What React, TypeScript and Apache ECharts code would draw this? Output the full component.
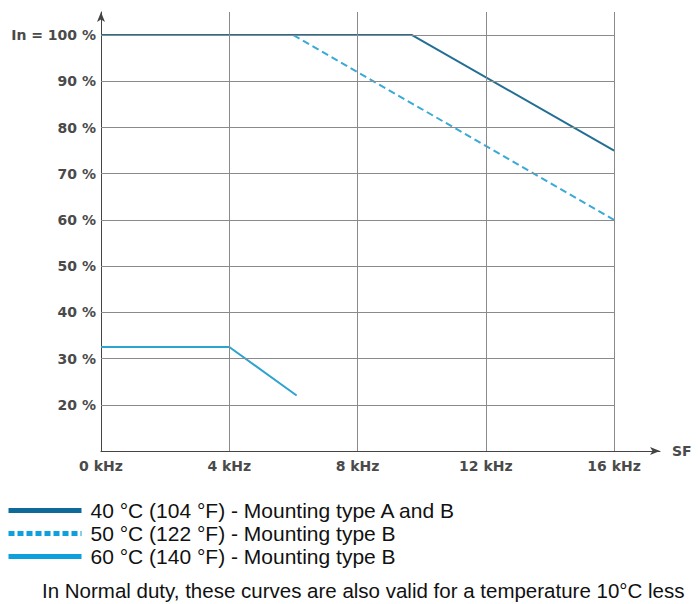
import React, { useEffect, useRef } from "react";
import * as echarts from "echarts";

const xTicks = [0, 4, 8, 12, 16];
const yTicks = [20, 30, 40, 50, 60, 70, 80, 90, 100];
const seriesNames = [
  "40 °C (104 °F) - Mounting type A and B",
  "50 °C (122 °F) - Mounting type B",
  "60 °C (140 °F) - Mounting type B",
];
const curve40: [number, number][] = [[0, 100], [9.7, 100], [16, 75]];
const curve50: [number, number][] = [[6, 100], [16, 60]];
const curve60: [number, number][] = [[0, 32.5], [4, 32.5], [6.1, 22]];
const note = "In Normal duty, these curves are also valid for a temperature 10°C less";

const X_MIN = 0;
const X_MAX = 17.43;
const Y_MIN = 10;
const Y_MAX = 105;
const GRID_X_END = 16;

export default function App() {
  const ref = useRef<HTMLDivElement>(null);
  useEffect(() => {
    if (!ref.current) return;
    const chart = echarts.init(ref.current, undefined, { renderer: "svg" });
    const gridLine = { color: "#8a8a8a", width: 1, type: "solid" as const };
    const gridMarks: any[] = [];
    yTicks.forEach((v) => gridMarks.push([{ coord: [X_MIN, v] }, { coord: [GRID_X_END, v] }]));
    xTicks.filter((v) => v > 0).forEach((v) => gridMarks.push([{ coord: [v, Y_MIN] }, { coord: [v, Y_MAX] }]));
    const labelFont = {
      fontFamily: "DejaVu Sans, sans-serif",
      fontWeight: "bold" as const,
      fontSize: 14,
      color: "#4a4a4a",
    };
    const legendFont = "Liberation Sans, Arial, sans-serif";
    const hidden = { color: "transparent", borderColor: "transparent", opacity: 0 };
    const legendColors = ["#0f6a9a", "#0ea0dc", "#0ea0dc"];
    const legendTypes: any[] = ["solid", [6, 3], "solid"];
    const legendTops = [500, 523, 546];
    const legends = seriesNames.map((name, i) => ({
      orient: "vertical",
      left: 6,
      top: legendTops[i],
      padding: 0,
      itemWidth: 73,
      itemHeight: 10,
      selectedMode: false,
      textStyle: {
        fontFamily: legendFont,
        fontSize: 21,
        color: "#111",
        padding: [0, 0, 0, 4],
      },
      data: [{ name, itemStyle: hidden, lineStyle: { width: 5, color: legendColors[i], type: legendTypes[i] } }],
    }));
    chart.setOption({
      animation: false,
      grid: { left: 101, right: 38, top: 12, bottom: 153, containLabel: false },
      xAxis: {
        type: "value",
        min: X_MIN,
        max: X_MAX,
        interval: 4,
        name: "SF",
        nameLocation: "end",
        nameGap: 12,
        nameTextStyle: { ...labelFont, fontSize: 14, verticalAlign: "middle" },
        axisLine: { show: true, lineStyle: { color: "#444", width: 1 }, symbol: ["none", "arrow"], symbolSize: [6, 10] },
        axisTick: { show: false },
        splitLine: { show: false },
        axisLabel: {
          ...labelFont,
          margin: 8,
          formatter: (v: number) => (xTicks.includes(v) ? `${v} kHz` : ""),
        },
      },
      yAxis: {
        type: "value",
        min: Y_MIN,
        max: Y_MAX,
        interval: 10,
        axisLine: { show: true, lineStyle: { color: "#444", width: 1 }, symbol: ["none", "arrow"], symbolSize: [6, 10] },
        axisTick: { show: false },
        splitLine: { show: false },
        axisLabel: {
          ...labelFont,
          margin: 5,
          formatter: (v: number) => (v === 100 ? "In = 100 %" : yTicks.includes(v) ? `${v} %` : ""),
        },
      },
      legend: legends,
      graphic: [
        {
          type: "text",
          left: 42,
          top: 580,
          style: {
            text: note,
            fontFamily: legendFont,
            fontSize: 20.5,
            fill: "#111",
          },
        },
      ],
      series: [
        {
          name: "grid",
          type: "line",
          data: [],
          silent: true,
          markLine: {
            silent: true,
            symbol: ["none", "none"],
            label: { show: false },
            lineStyle: gridLine,
            emphasis: { disabled: true },
            data: gridMarks,
          },
          z: 1,
        },
        {
          name: seriesNames[0],
          type: "line",
          data: curve40,
          showSymbol: false,
          symbol: "none",
          lineStyle: { color: "#236f94", width: 2 },
          itemStyle: { color: "#236f94" },
          z: 4,
        },
        {
          name: seriesNames[1],
          type: "line",
          data: curve50,
          showSymbol: false,
          symbol: "none",
          lineStyle: { color: "#3aa9d6", width: 2, type: [7, 4] },
          itemStyle: { color: "#3aa9d6" },
          z: 3,
        },
        {
          name: seriesNames[2],
          type: "line",
          data: curve60,
          showSymbol: false,
          symbol: "none",
          lineStyle: { color: "#2ea3cf", width: 2 },
          itemStyle: { color: "#2ea3cf" },
          z: 3,
        },
      ],
    });
    return () => chart.dispose();
  }, []);
  return (
    <div
      ref={ref}
      style={{ position: "fixed", left: 0, top: 0, width: 698, height: 604, background: "#fff" }}
    />
  );
}
